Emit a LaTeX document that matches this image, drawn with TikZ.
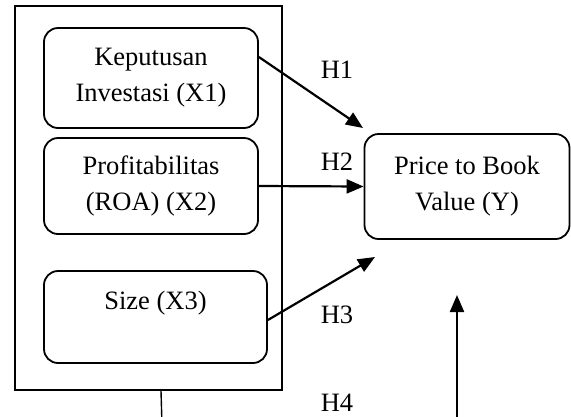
\documentclass[tikz,border=0pt]{standalone}
\usepackage{fontspec}
\setmainfont{Liberation Serif}
\usetikzlibrary{arrows.meta}
\begin{document}
\begin{tikzpicture}[x=1pt,y=-1pt,
 box/.style={draw,line width=1.8pt,rounded corners=14pt,inner sep=0pt,
   font=\fontsize{26.5}{36}\selectfont,align=center},
 txt/.style={font=\fontsize{26.5}{36}\selectfont,align=center,inner sep=0pt},
 conn/.style={line width=2.2pt,-{Triangle[length=17pt,width=14pt]}},
 lbl/.style={font=\fontsize{26.5}{30}\selectfont,inner sep=0pt}]
\useasboundingbox (0,0) rectangle (571,416);
\node[draw,line width=1.8pt,minimum width=267pt,minimum height=384pt,inner sep=0pt] (outer) at (148.5,198) {};
\node[box,minimum width=214pt,minimum height=100pt] (x1) at (151,78) {Keputusan\\Investasi (X1)};
\node[box,minimum width=214pt,minimum height=96pt] (x2) at (151,186) {Profitabilitas\\(ROA) (X2)};
\node[box,minimum width=223pt,minimum height=92pt] (x3) at (155.5,317) {};
\node[txt] (x3t) at (155.5,303) {Size (X3)};
\node[box,minimum width=205pt,minimum height=105pt] (y) at (467,186.5) {Price to Book\\Value (Y)};
\node[lbl] (h1) at (337,70) {H1};
\node[lbl] (h2) at (337,162) {H2};
\node[lbl] (h3) at (337,315) {H3};
\node[lbl] (h4) at (337,403) {H4};
\coordinate (t1) at (363,128);
\coordinate (t3) at (375,257);
\coordinate (t4) at (457,295);
\coordinate (b4) at (457,430);
\coordinate (ob) at (162,425);
\draw[conn] ([yshift=21pt]x1.east) -- (t1);
\draw[conn] (x2.east) -- (y.west);
\draw[conn] ([yshift=-3pt]x3.east) -- (t3);
\draw[conn] (b4) -- (t4);
\draw[line width=1.4pt] ([xshift=12.5pt]outer.south) -- (ob);
\end{tikzpicture}
\end{document}
